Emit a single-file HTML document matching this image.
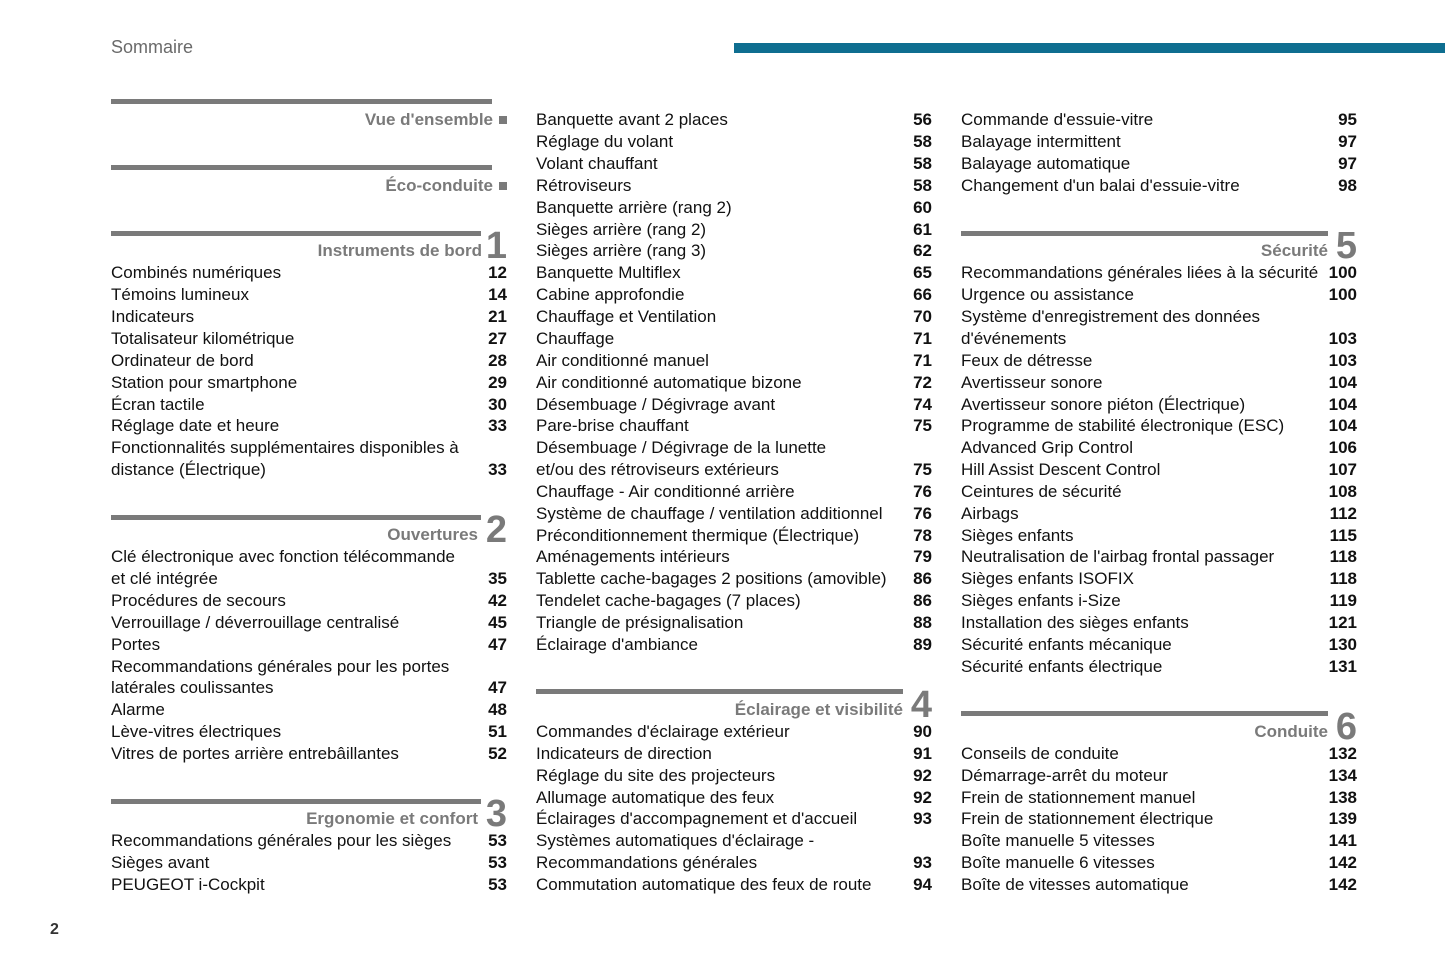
<!DOCTYPE html>
<html><head><meta charset="utf-8"><style>
body{margin:0;width:1445px;height:963px;background:#fff;position:relative;overflow:hidden;font-family:"Liberation Sans",Arial,sans-serif;color:#111}
.c{position:absolute;top:1px;width:396px}
.r{position:absolute;left:0;width:396px;height:22px;line-height:22px;font-size:17px;white-space:nowrap}
.r b{position:absolute;right:0;top:0;font-weight:bold}
.bar{position:absolute;left:0;height:5px;background:#7a7a7a}
.h{position:absolute;height:22px;line-height:22px;font-size:17px;font-weight:bold;color:#7a7a7a;text-align:right;white-space:nowrap}
.sq{position:absolute;right:0;width:8px;height:8px;background:#7a7a7a}
.n{position:absolute;right:0;font-size:38px;font-weight:bold;color:#7a7a7a;line-height:38px}
</style></head><body>
<div style="position:absolute;left:111px;top:36px;font-size:18px;color:#6a6a6a;line-height:22px">Sommaire</div>
<div style="position:absolute;left:734px;top:43px;width:711px;height:10px;background:#0e6e90"></div>
<div style="position:absolute;left:50px;top:919px;font-size:16px;font-weight:bold;color:#333;line-height:22px">2</div>

<div class="c" style="left:111px">
<div class="bar" style="top:98px;width:381px"></div>
<div class="h" style="top:108px;right:14px">Vue d'ensemble</div><div class="sq" style="top:115px"></div>
<div class="bar" style="top:164px;width:381px"></div>
<div class="h" style="top:174px;right:14px">Éco-conduite</div><div class="sq" style="top:181px"></div>
<div class="bar" style="top:230px;width:370px"></div>
<div class="h" style="top:239px;right:25px">Instruments de bord</div><div class="n" style="top:226px">1</div>
<div class="r" style="top:261px">Combinés numériques<b>12</b></div>
<div class="r" style="top:283px">Témoins lumineux<b>14</b></div>
<div class="r" style="top:305px">Indicateurs<b>21</b></div>
<div class="r" style="top:327px">Totalisateur kilométrique<b>27</b></div>
<div class="r" style="top:349px">Ordinateur de bord<b>28</b></div>
<div class="r" style="top:371px">Station pour smartphone<b>29</b></div>
<div class="r" style="top:393px">Écran tactile<b>30</b></div>
<div class="r" style="top:414px">Réglage date et heure<b>33</b></div>
<div class="r" style="top:436px">Fonctionnalités supplémentaires disponibles à</div>
<div class="r" style="top:458px">distance (Électrique)<b>33</b></div>
<div class="bar" style="top:514px;width:370px"></div>
<div class="h" style="top:523px;right:29px">Ouvertures</div><div class="n" style="top:510px">2</div>
<div class="r" style="top:545px">Clé électronique avec fonction télécommande</div>
<div class="r" style="top:567px">et clé intégrée<b>35</b></div>
<div class="r" style="top:589px">Procédures de secours<b>42</b></div>
<div class="r" style="top:611px">Verrouillage / déverrouillage centralisé<b>45</b></div>
<div class="r" style="top:633px">Portes<b>47</b></div>
<div class="r" style="top:655px">Recommandations générales pour les portes</div>
<div class="r" style="top:676px">latérales coulissantes<b>47</b></div>
<div class="r" style="top:698px">Alarme<b>48</b></div>
<div class="r" style="top:720px">Lève-vitres électriques<b>51</b></div>
<div class="r" style="top:742px">Vitres de portes arrière entrebâillantes<b>52</b></div>
<div class="bar" style="top:798px;width:370px"></div>
<div class="h" style="top:807px;right:29px">Ergonomie et confort</div><div class="n" style="top:794px">3</div>
<div class="r" style="top:829px">Recommandations générales pour les sièges<b>53</b></div>
<div class="r" style="top:851px">Sièges avant<b>53</b></div>
<div class="r" style="top:873px">PEUGEOT i-Cockpit<b>53</b></div>
</div>

<div class="c" style="left:536px">
<div class="r" style="top:108px">Banquette avant 2 places<b>56</b></div>
<div class="r" style="top:130px">Réglage du volant<b>58</b></div>
<div class="r" style="top:152px">Volant chauffant<b>58</b></div>
<div class="r" style="top:174px">Rétroviseurs<b>58</b></div>
<div class="r" style="top:196px">Banquette arrière (rang 2)<b>60</b></div>
<div class="r" style="top:218px">Sièges arrière (rang 2)<b>61</b></div>
<div class="r" style="top:239px">Sièges arrière (rang 3)<b>62</b></div>
<div class="r" style="top:261px">Banquette Multiflex<b>65</b></div>
<div class="r" style="top:283px">Cabine approfondie<b>66</b></div>
<div class="r" style="top:305px">Chauffage et Ventilation<b>70</b></div>
<div class="r" style="top:327px">Chauffage<b>71</b></div>
<div class="r" style="top:349px">Air conditionné manuel<b>71</b></div>
<div class="r" style="top:371px">Air conditionné automatique bizone<b>72</b></div>
<div class="r" style="top:393px">Désembuage / Dégivrage avant<b>74</b></div>
<div class="r" style="top:414px">Pare-brise chauffant<b>75</b></div>
<div class="r" style="top:436px">Désembuage / Dégivrage de la lunette</div>
<div class="r" style="top:458px">et/ou des rétroviseurs extérieurs<b>75</b></div>
<div class="r" style="top:480px">Chauffage - Air conditionné arrière<b>76</b></div>
<div class="r" style="top:502px">Système de chauffage / ventilation additionnel<b>76</b></div>
<div class="r" style="top:524px">Préconditionnement thermique (Électrique)<b>78</b></div>
<div class="r" style="top:545px">Aménagements intérieurs<b>79</b></div>
<div class="r" style="top:567px">Tablette cache-bagages 2 positions (amovible)<b>86</b></div>
<div class="r" style="top:589px">Tendelet cache-bagages (7 places)<b>86</b></div>
<div class="r" style="top:611px">Triangle de présignalisation<b>88</b></div>
<div class="r" style="top:633px">Éclairage d'ambiance<b>89</b></div>
<div class="bar" style="top:688px;width:367px"></div>
<div class="h" style="top:698px;right:29px">Éclairage et visibilité</div><div class="n" style="top:685px">4</div>
<div class="r" style="top:720px">Commandes d'éclairage extérieur<b>90</b></div>
<div class="r" style="top:742px">Indicateurs de direction<b>91</b></div>
<div class="r" style="top:764px">Réglage du site des projecteurs<b>92</b></div>
<div class="r" style="top:786px">Allumage automatique des feux<b>92</b></div>
<div class="r" style="top:807px">Éclairages d'accompagnement et d'accueil<b>93</b></div>
<div class="r" style="top:829px">Systèmes automatiques d'éclairage -</div>
<div class="r" style="top:851px">Recommandations générales<b>93</b></div>
<div class="r" style="top:873px">Commutation automatique des feux de route<b>94</b></div>
</div>

<div class="c" style="left:961px">
<div class="r" style="top:108px">Commande d'essuie-vitre<b>95</b></div>
<div class="r" style="top:130px">Balayage intermittent<b>97</b></div>
<div class="r" style="top:152px">Balayage automatique<b>97</b></div>
<div class="r" style="top:174px">Changement d'un balai d'essuie-vitre<b>98</b></div>
<div class="bar" style="top:230px;width:367px"></div>
<div class="h" style="top:239px;right:29px">Sécurité</div><div class="n" style="top:226px">5</div>
<div class="r" style="top:261px">Recommandations générales liées à la sécurité<b>100</b></div>
<div class="r" style="top:283px">Urgence ou assistance<b>100</b></div>
<div class="r" style="top:305px">Système d'enregistrement des données</div>
<div class="r" style="top:327px">d'événements<b>103</b></div>
<div class="r" style="top:349px">Feux de détresse<b>103</b></div>
<div class="r" style="top:371px">Avertisseur sonore<b>104</b></div>
<div class="r" style="top:393px">Avertisseur sonore piéton (Électrique)<b>104</b></div>
<div class="r" style="top:414px">Programme de stabilité électronique (ESC)<b>104</b></div>
<div class="r" style="top:436px">Advanced Grip Control<b>106</b></div>
<div class="r" style="top:458px">Hill Assist Descent Control<b>107</b></div>
<div class="r" style="top:480px">Ceintures de sécurité<b>108</b></div>
<div class="r" style="top:502px">Airbags<b>112</b></div>
<div class="r" style="top:524px">Sièges enfants<b>115</b></div>
<div class="r" style="top:545px">Neutralisation de l'airbag frontal passager<b>118</b></div>
<div class="r" style="top:567px">Sièges enfants ISOFIX<b>118</b></div>
<div class="r" style="top:589px">Sièges enfants i-Size<b>119</b></div>
<div class="r" style="top:611px">Installation des sièges enfants<b>121</b></div>
<div class="r" style="top:633px">Sécurité enfants mécanique<b>130</b></div>
<div class="r" style="top:655px">Sécurité enfants électrique<b>131</b></div>
<div class="bar" style="top:710px;width:367px"></div>
<div class="h" style="top:720px;right:29px">Conduite</div><div class="n" style="top:707px">6</div>
<div class="r" style="top:742px">Conseils de conduite<b>132</b></div>
<div class="r" style="top:764px">Démarrage-arrêt du moteur<b>134</b></div>
<div class="r" style="top:786px">Frein de stationnement manuel<b>138</b></div>
<div class="r" style="top:807px">Frein de stationnement électrique<b>139</b></div>
<div class="r" style="top:829px">Boîte manuelle 5 vitesses<b>141</b></div>
<div class="r" style="top:851px">Boîte manuelle 6 vitesses<b>142</b></div>
<div class="r" style="top:873px">Boîte de vitesses automatique<b>142</b></div>
</div>
</body></html>
